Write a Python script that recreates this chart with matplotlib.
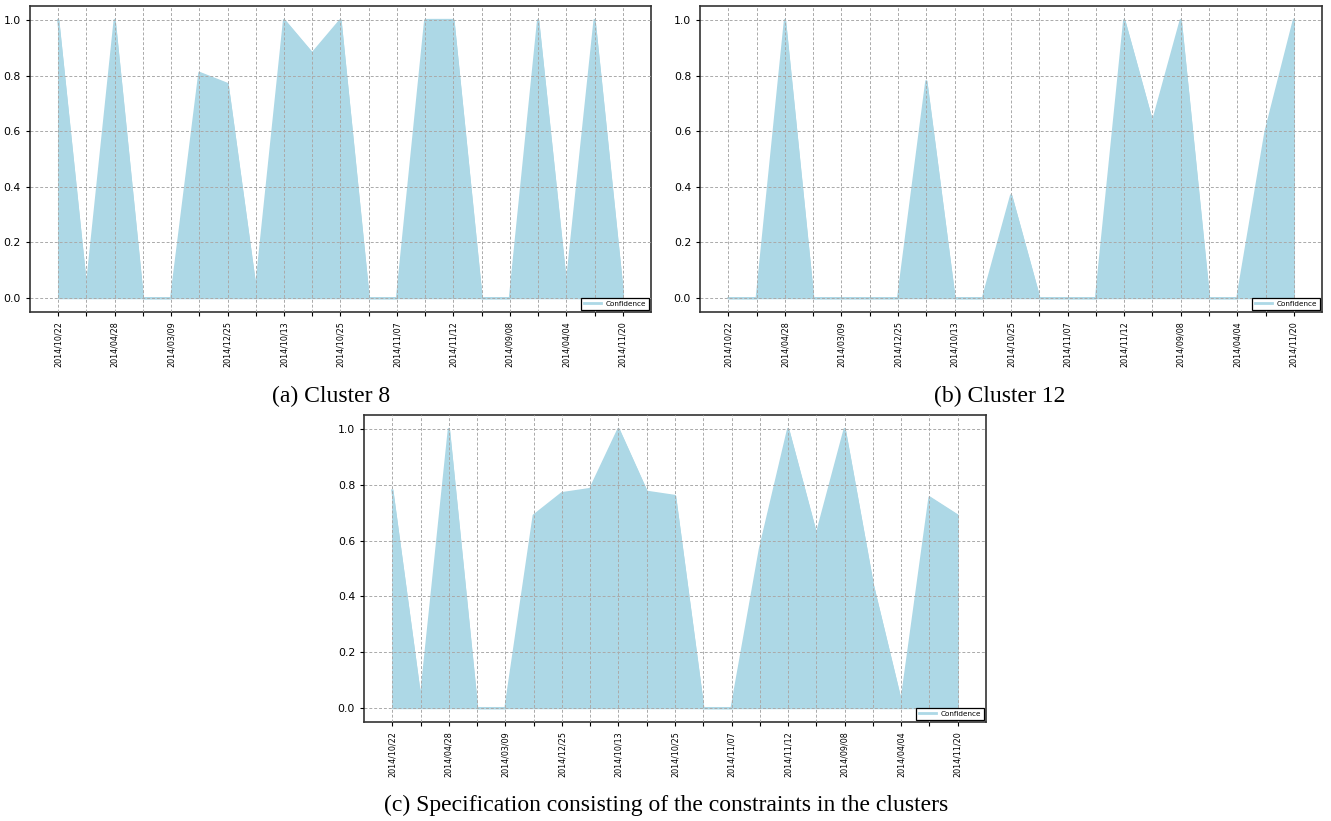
import matplotlib.pyplot as plt
import numpy as np

# run dates shown on the x axis (every other point is labelled)
dates = ['2014/10/22', '2014/04/28', '2014/03/09', '2014/12/25', '2014/10/13',
         '2014/10/25', '2014/11/07', '2014/11/12', '2014/09/08', '2014/04/04',
         '2014/11/20']

# confidence per run
cluster8 = [1.0, 0.03, 1.0, 0.0, 0.0, 0.81, 0.77, 0.03, 1.0, 0.88, 1.0,
            0.0, 0.0, 1.0, 1.0, 0.0, 0.0, 1.0, 0.04, 1.0, 0.02]
cluster12 = [0.0, 0.0, 1.0, 0.0, 0.0, 0.0, 0.0, 0.78, 0.0, 0.0, 0.37,
             0.0, 0.0, 0.0, 1.0, 0.63, 1.0, 0.0, 0.0, 0.6, 1.0]
spec = [0.78, 0.03, 1.0, 0.0, 0.0, 0.69, 0.77, 0.785, 1.0, 0.775, 0.76,
        0.0, 0.0, 0.57, 1.0, 0.62, 1.0, 0.44, 0.02, 0.755, 0.69]

captions = ['(a) Cluster 8', '(b) Cluster 12',
            '(c) Specification consisting of the constraints in the clusters']


def draw(ax, values):
    x = np.arange(len(values))
    ax.fill_between(x, values, color='lightblue', zorder=1)
    ax.plot(x, values, color='lightblue', lw=1.5, label='Confidence', zorder=1)
    ax.set_xlim(-1, len(values))
    ax.set_ylim(-0.05, 1.05)
    ax.set_yticks([0.0, 0.2, 0.4, 0.6, 0.8, 1.0])
    ax.set_xticks(x)
    labels = []
    for i in x:
        labels.append(dates[i // 2] if i % 2 == 0 else '')
    ax.set_xticklabels(labels, rotation=90, fontsize=5.8)
    ax.tick_params(axis='y', labelsize=7.8, length=3)
    ax.tick_params(axis='x', length=3)
    ax.grid(True, linestyle=(0, (3, 2)), color='#aaaaaa', linewidth=0.7, zorder=2)
    ax.set_axisbelow(False)
    for s in ax.spines.values():
        s.set_linewidth(1.2)
        s.set_color('#333333')
    leg = ax.legend(loc='lower right', fontsize=5.2, fancybox=False,
                    edgecolor='black', framealpha=1, borderaxespad=0.3,
                    handlelength=2.4, handletextpad=0.6)
    leg.get_frame().set_linewidth(0.9)
    leg.get_lines()[0].set_linewidth(2)


fig = plt.figure(figsize=(13.31, 8.21), dpi=100)
ax_a = fig.add_axes([0.0225, 0.620, 0.4666, 0.3727])
ax_b = fig.add_axes([0.526, 0.620, 0.4673, 0.3727])
ax_c = fig.add_axes([0.2735, 0.1206, 0.4673, 0.374])

draw(ax_a, cluster8)
draw(ax_b, cluster12)
draw(ax_c, spec)

cap = dict(family='Liberation Serif', fontsize=17, ha='center', va='center')
fig.text(331 / 1331, 1 - 396 / 821, captions[0], **cap)
fig.text(1000 / 1331, 1 - 396 / 821, captions[1], **cap)
fig.text(666 / 1331, 1 - 805 / 821, captions[2], **cap)

fig.savefig('out.png', dpi=100)
